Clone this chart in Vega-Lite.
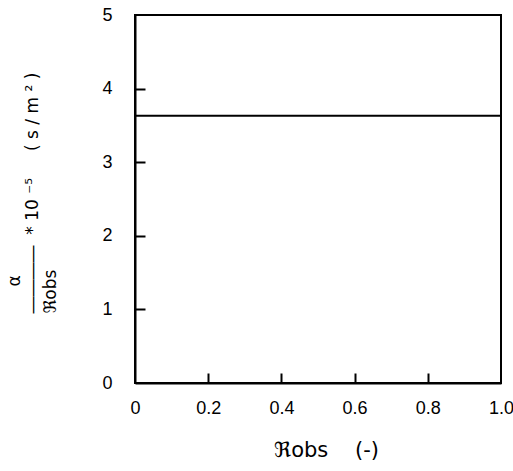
{
  "$schema": "https://vega.github.io/schema/vega-lite/v6.json",
  "autosize": "none",
  "padding": {"left": 135, "top": 15, "right": 12, "bottom": 88},
  "width": 366,
  "height": 368,
  "background": "white",
  "config": {
    "font": "Liberation Sans",
    "view": {"stroke": "black", "strokeWidth": 2},
    "axis": {
      "domainColor": "black",
      "domainWidth": 2,
      "tickColor": "black",
      "tickWidth": 2,
      "grid": false,
      "labelFont": "Liberation Sans",
      "labelFontSize": 18,
      "labelColor": "black",
      "titleFont": "DejaVu Sans",
      "titleFontWeight": "normal",
      "titleColor": "black"
    }
  },
  "data": {"values": [{"x": 0, "y": 3.63}, {"x": 1, "y": 3.63}]},
  "resolve": {"axis": {"x": "independent", "y": "independent"}},
  "layer": [
    {
      "mark": {"type": "line", "color": "black", "strokeWidth": 2},
      "encoding": {
        "x": {
          "field": "x",
          "type": "quantitative",
          "scale": {"domain": [0, 1], "nice": false},
          "axis": {
            "orient": "bottom",
            "values": [0, 0.2, 0.4, 0.6, 0.8, 1.0],
            "labelExpr": "datum.value == 0 ? '0' : format(datum.value, '.1f')",
            "ticks": false,
            "labelPadding": 16,
            "labelFlush": false,
            "title": "ℜobs\u00a0\u00a0\u00a0\u00a0(-)",
            "titleFontSize": 21,
            "titlePadding": 22,
            "titleX": 191
          }
        },
        "y": {
          "field": "y",
          "type": "quantitative",
          "scale": {"domain": [0, 5], "nice": false},
          "axis": {
            "orient": "left",
            "values": [0, 1, 2, 3, 4, 5],
            "format": "d",
            "ticks": false,
            "labelPadding": 23,
            "labelFlush": false,
            "title": ["\u200b\u00a0\u00a0\u00a0\u00a0\u00a0α", "――――\u00a0\u00a0*\u00a010\u00a0⁻⁵\u00a0\u00a0\u00a0\u00a0\u00a0(\u00a0s\u00a0/\u00a0m\u00a0²\u00a0)", "ℜobs"],
            "titleFontSize": 17,
            "titleLineHeight": 18,
            "titleAlign": "left",
            "titleAnchor": "start",
            "titleAngle": -90,
            "titleBaseline": "bottom",
            "titleX": -112,
            "titleY": 298
          }
        }
      }
    },
    {
      "mark": {"type": "line", "opacity": 0},
      "encoding": {
        "x": {
          "field": "x",
          "type": "quantitative",
          "axis": {
            "orient": "bottom",
            "offset": -10,
            "values": [0.2, 0.4, 0.6, 0.8],
            "domain": false,
            "labels": false,
            "ticks": true,
            "tickSize": 10,
            "title": null
          }
        },
        "y": {
          "field": "y",
          "type": "quantitative",
          "axis": {
            "orient": "left",
            "offset": -10,
            "values": [1, 2, 3, 4],
            "domain": false,
            "labels": false,
            "ticks": true,
            "tickSize": 10,
            "title": null
          }
        }
      }
    }
  ]
}
